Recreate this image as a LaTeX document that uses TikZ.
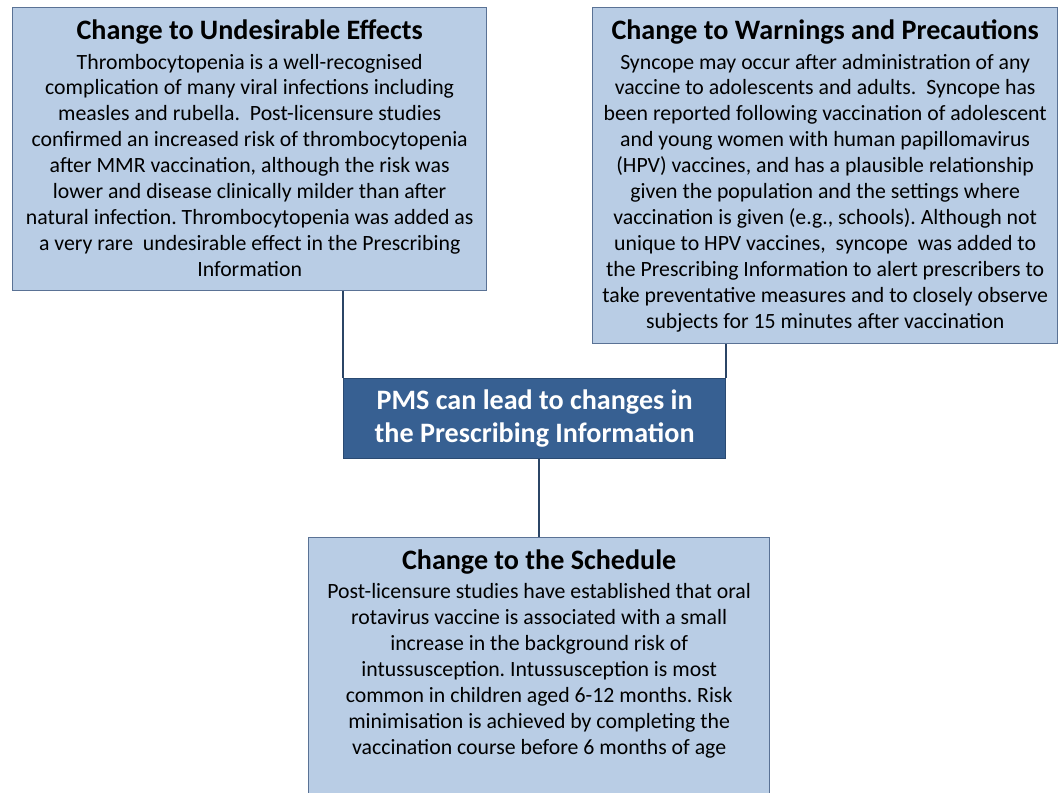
\documentclass[tikz,border=0pt]{standalone}
\usepackage{fontspec}
\setmainfont{Carlito}
\usetikzlibrary{positioning}
\frenchspacing
\definecolor{boxfill}{HTML}{B9CDE5}
\definecolor{boxedge}{HTML}{5A7295}
\definecolor{pmsfill}{HTML}{376092}
\definecolor{pmsedge}{HTML}{2A4A72}
\definecolor{linkcol}{HTML}{2B4566}
\tikzset{
  infobox/.style={rectangle, draw=boxedge, fill=boxfill, line width=0.8pt,
    anchor=north west, inner sep=0pt},
  infotext/.style={align=center, inner sep=0pt,
    font=\fontsize{12.4}{14.74}\selectfont},
  pmsbox/.style={rectangle, draw=pmsedge, fill=pmsfill, line width=0.8pt,
    anchor=north west, inner sep=0pt, text=white, align=center,
    font=\fontsize{16}{18.7}\selectfont\bfseries},
  link/.style={draw=linkcol, line width=1.2pt}
}
\newcommand{\boxtitle}[1]{{\fontsize{16}{18}\selectfont\bfseries #1}\\[2pt]}

\begin{document}
\begin{tikzpicture}[x=0.02cm, y=-0.02cm]
  \useasboundingbox (0,0) rectangle (1058,792);
  \clip (0,0) rectangle (1058,792);

  % Boxes
  \node[infobox, minimum width=9.48cm, minimum height=5.66cm] (undes) at (12,7) {};
  \node[infobox, minimum width=9.3cm, minimum height=6.72cm] (warn) at (592,7) {};
  \node[infobox, minimum width=9.22cm, minimum height=5.6cm] (sched) at (308,537) {};
  \node[pmsbox, minimum width=7.64cm, minimum height=1.6cm] (pms) at (343,378)
    {PMS can lead to changes in\\the Prescribing Information};

  % Connectors
  \draw[link] (pms.north west |- undes.south) -- (pms.north west);
  \draw[link] (pms.north east |- warn.south) -- (pms.north east);
  \draw[link] (sched.north |- pms.south) -- (sched.north);

  % Box texts
  \node[infotext, below=0.25cm of undes.north] (undestext) {%
    \boxtitle{Change to Undesirable Effects}
    Thrombocytopenia is a well-recognised\\
    complication of many viral infections including\\
    measles and rubella.\ \ Post-licensure studies\\
    confirmed an increased risk of thrombocytopenia\\
    after MMR vaccination, although the risk was\\
    lower and disease clinically milder than after\\
    natural infection. Thrombocytopenia was added as\\
    a very rare\ \ undesirable effect in the Prescribing\\
    Information};
  \node[infotext, below=0.25cm of warn.north] (warntext) {%
    \boxtitle{Change to Warnings and Precautions}
    Syncope may occur after administration of any\\
    vaccine to adolescents and adults.\ \ Syncope has\\
    been reported following vaccination of adolescent\\
    and young women with human papillomavirus\\
    (HPV) vaccines, and has a plausible relationship\\
    given the population and the settings where\\
    vaccination is given (e.g., schools). Although not\\
    unique to HPV vaccines,\ \ syncope\ \ was added to\\
    the Prescribing Information to alert prescribers to\\
    take preventative measures and to closely observe\\
    subjects for 15 minutes after vaccination};
  \node[infotext, below=0.25cm of sched.north] (schedtext) {%
    \boxtitle{Change to the Schedule}
    Post-licensure studies have established that oral\\
    rotavirus vaccine is associated with a small\\
    increase in the background risk of\\
    intussusception. Intussusception is most\\
    common in children aged 6-12 months. Risk\\
    minimisation is achieved by completing the\\
    vaccination course before 6 months of age};
\end{tikzpicture}
\end{document}
